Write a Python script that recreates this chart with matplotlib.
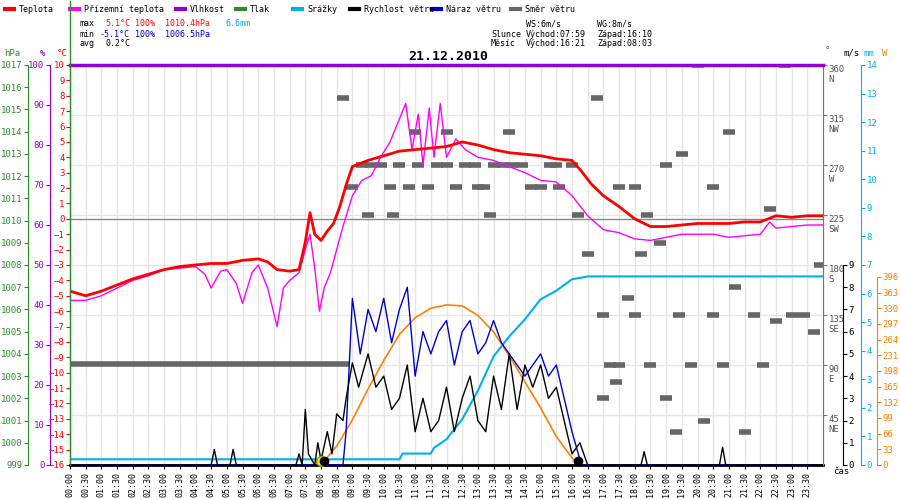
import matplotlib
matplotlib.use("Agg")
import matplotlib.pyplot as plt
import numpy as np

plt.rcParams['font.family'] = ['DejaVu Sans Mono']
plt.rcParams['font.size'] = 6.5

# ---------------- data ----------------
temp_t = [0, 0.5, 1, 1.5, 2, 2.5, 3, 3.5, 4, 4.5, 5, 5.5, 6, 6.3, 6.6, 7, 7.3, 7.5, 7.65, 7.8, 8.0, 8.2, 8.4, 8.6, 8.8, 9.0, 9.5, 10, 10.5, 11, 11.5, 12, 12.5, 13, 13.5, 14, 14.5, 15, 15.5, 16, 16.3, 16.6, 17.0, 17.5, 18, 18.5, 19, 19.5, 20, 20.5, 21, 21.5, 22, 22.5, 23, 23.5, 24]
temp_v = [-4.7, -5.0, -4.7, -4.3, -3.9, -3.6, -3.3, -3.1, -3.0, -2.9, -2.9, -2.7, -2.6, -2.8, -3.3, -3.4, -3.3, -1.5, 0.4, -1.0, -1.4, -0.8, -0.3, 0.8, 2.2, 3.4, 3.8, 4.1, 4.4, 4.5, 4.6, 4.7, 5.0, 4.8, 4.5, 4.3, 4.2, 4.1, 3.9, 3.8, 3.1, 2.3, 1.5, 0.8, 0.0, -0.5, -0.5, -0.4, -0.3, -0.3, -0.3, -0.2, -0.2, 0.2, 0.1, 0.2, 0.2]

feel_t = [0, 0.5, 1, 1.5, 2, 2.5, 3, 3.5, 4, 4.3, 4.5, 4.8, 5, 5.3, 5.5, 5.8, 6, 6.3, 6.6, 6.8, 7, 7.3, 7.5, 7.65, 7.8, 7.95, 8.1, 8.3, 8.5, 8.7, 9.0, 9.3, 9.6, 9.9, 10.2, 10.5, 10.7, 10.9, 11.1, 11.25, 11.45, 11.6, 11.8, 12.0, 12.3, 12.6, 13.0, 13.5, 14, 14.5, 15, 15.5, 16, 16.5, 17, 17.5, 18, 18.5, 19, 19.5, 20, 20.5, 21, 21.5, 22, 22.3, 22.5, 23, 23.5, 24]
feel_v = [-5.3, -5.3, -5.0, -4.5, -4.0, -3.7, -3.3, -3.2, -3.1, -3.6, -4.5, -3.4, -3.3, -4.2, -5.5, -3.5, -3.0, -4.5, -7.0, -4.5, -4.0, -3.5, -2.0, -1.0, -3.2, -6.0, -4.5, -3.5, -2.0, -0.5, 1.5, 2.5, 2.8, 4.0, 5.0, 6.5, 7.5, 4.5, 6.8, 3.5, 7.2, 4.0, 7.5, 4.0, 5.2, 4.5, 4.0, 3.8, 3.4, 3.0, 2.5, 2.4, 1.5, 0.2, -0.7, -0.9, -1.3, -1.4, -1.2, -1.0, -1.0, -1.0, -1.2, -1.1, -1.0, -0.2, -0.6, -0.5, -0.4, -0.4]

hum_t = [0, 24]
hum_v = [100, 100]

rain_t = [0, 10.5, 10.6, 11.5, 11.6, 12.0, 12.5, 13.0, 13.5, 14.0, 14.5, 15.0, 15.5, 16.0, 16.5, 24]
rain_v = [0.2, 0.2, 0.4, 0.4, 0.6, 0.9, 1.6, 2.6, 3.8, 4.5, 5.1, 5.8, 6.1, 6.5, 6.6, 6.6]

sun_t = [8.0, 8.5, 9.0, 9.5, 10.0, 10.5, 11.0, 11.5, 12.0, 12.5, 13.0, 13.5, 14.0, 14.5, 15.0, 15.5, 16.0, 16.2]
sun_v = [0, 40, 95, 160, 220, 275, 310, 330, 337, 335, 315, 280, 230, 175, 120, 60, 15, 0]

wind_t = [0, 4.5, 4.6, 4.7, 5.1, 5.2, 5.3, 7.2, 7.3, 7.4, 7.5, 7.6, 7.8, 7.9, 8.0, 8.2, 8.35, 8.5, 8.7, 8.8, 9.0, 9.2, 9.5, 9.75, 10.0, 10.25, 10.5, 10.75, 11.0, 11.25, 11.5, 11.75, 12.0, 12.25, 12.5, 12.75, 13.0, 13.25, 13.5, 13.75, 14.0, 14.25, 14.5, 14.75, 15.0, 15.25, 15.5, 15.75, 16.0, 16.25, 16.5, 18.2, 18.3, 18.4, 20.7, 20.8, 20.9, 24]
wind_v = [0, 0, 0.7, 0, 0, 0.7, 0, 0, 0.5, 0, 2.5, 0.5, 0, 1.0, 0.2, 1.5, 0.5, 2.3, 2.0, 3.0, 4.6, 3.5, 5.0, 3.5, 4.0, 2.5, 3.0, 4.5, 1.5, 3.0, 1.5, 2.0, 3.5, 1.5, 3.0, 4.0, 2.0, 1.5, 4.0, 2.5, 5.0, 2.5, 4.5, 3.5, 4.5, 3.0, 3.5, 2.0, 0.5, 1.0, 0, 0, 0.6, 0, 0, 0.8, 0, 0]

gust_t = [0, 8.7, 8.8, 9.0, 9.25, 9.5, 9.75, 10.0, 10.25, 10.5, 10.75, 11.0, 11.25, 11.5, 11.75, 12.0, 12.25, 12.5, 12.75, 13.0, 13.25, 13.5, 13.75, 14.0, 14.25, 14.5, 14.75, 15.0, 15.25, 15.5, 15.75, 16.0, 16.3, 24]
gust_v = [0, 0, 1.5, 7.5, 5.0, 7.0, 6.0, 7.5, 5.5, 7.0, 8.0, 4.0, 6.0, 5.0, 6.0, 6.5, 4.5, 6.0, 6.5, 5.0, 5.5, 6.5, 5.5, 5.0, 4.5, 4.0, 4.5, 5.0, 4.0, 4.5, 3.0, 1.5, 0, 0]

dir_const = (0.0, 8.9, 91)
dir_t = [9.0, 9.3, 9.6, 9.9, 10.2, 10.5, 10.8, 11.1, 11.4, 11.7, 12.0, 12.3, 12.6, 12.9, 13.2, 13.5, 13.8, 14.1, 14.4, 14.7, 15.0, 15.3, 15.6, 8.7, 9.5, 10.3, 11.0, 12.0, 13.0, 14.0, 13.4, 15.5, 16.0, 16.2, 16.5, 17.0, 17.2, 17.5, 17.4, 18.0, 18.4, 18.0, 17.8, 18.5, 19.0, 19.4, 19.8, 20.2, 20.5, 20.8, 21.2, 21.5, 21.8, 22.1, 22.5, 23.0, 23.4, 23.7, 23.9, 16.8, 17.5, 18.2, 19.0, 20.0, 22.8, 21.0, 22.3, 20.5, 19.5, 18.8, 17.0, 19.3]
dir_v = [250, 270, 270, 270, 250, 270, 250, 270, 250, 270, 270, 250, 270, 270, 250, 270, 270, 270, 270, 250, 250, 270, 250, 330, 225, 225, 300, 300, 250, 300, 225, 270, 270, 225, 190, 135, 90, 90, 75, 250, 225, 135, 150, 90, 60, 135, 90, 40, 135, 90, 160, 30, 135, 90, 130, 135, 135, 120, 180, 330, 250, 190, 270, 360, 360, 300, 230, 250, 280, 200, 60, 30]

time_labels = ["%02d:%02d" % (h // 2, 30 * (h % 2)) for h in range(48)]

PT = 72 / 100  # points per pixel

# ---------------- figure ----------------
fig = plt.figure(figsize=(9, 5), dpi=100)
pos = [70 / 900, 35 / 500, 753 / 900, 400 / 500]
ax = fig.add_axes(pos)
ax.set_xlim(0, 24)
ax.set_ylim(-16, 10)
ax.spines['top'].set_visible(False)
ax.spines['left'].set_color('red')
ax.spines['right'].set_color('#777777')
ax.spines['bottom'].set_color('black')
ax.spines['bottom'].set_linewidth(2)
ax.set_yticks(range(-16, 11))
ax.tick_params(axis='y', colors='red', labelcolor='red', length=3, pad=1, labelsize=6.5)
ax.set_xticks(np.arange(0, 24, 0.5))
ax.set_xticklabels(time_labels, rotation=90, fontsize=6)
ax.tick_params(axis='x', length=3, pad=2)
ax.grid(axis='x', color='#e6e6e6', lw=1)

# direction axis (grid + gray squares)
axd = ax.twinx()
axd.set_position(pos)
axd.set_ylim(0, 360)
axd.set_yticks([45, 90, 135, 180, 225, 270, 315, 360])
axd.set_yticklabels(["45\nNE", "90\nE", "135\nSE", "180\nS", "225\nSW", "270\nW", "315\nNW", "360\nN"], va='top')
axd.tick_params(axis='y', colors='#777777', labelcolor='#555555', length=3, pad=1, labelsize=6.5)
for s in ['top', 'left', 'bottom']:
    axd.spines[s].set_visible(False)
axd.spines['right'].set_color('#777777')
axd.grid(axis='y', color='#e6e6e6', lw=1)
axd.hlines(dir_const[2], dir_const[0], dir_const[1], color='#666666', lw=4)
axd.plot(dir_t, dir_v, ls='none', marker='_', ms=8, mew=4, color='#666666')

def left_axis(lim, ticks, offset_px, color):
    a = ax.twinx()
    a.set_position(pos)
    a.set_ylim(*lim)
    a.spines['left'].set_position(('outward', offset_px * PT))
    a.spines['left'].set_visible(True)
    a.yaxis.set_ticks_position('left')
    for s in ['top', 'right', 'bottom']:
        a.spines[s].set_visible(False)
    a.spines['left'].set_color(color)
    a.set_yticks(ticks)
    a.tick_params(axis='y', colors=color, labelcolor=color, length=3, pad=1, labelsize=6.5)
    return a

def right_axis(lim, ticks, offset_px, color, bound=None):
    a = ax.twinx()
    a.set_position(pos)
    a.set_ylim(*lim)
    a.spines['right'].set_position(('outward', offset_px * PT))
    if bound is not None:
        a.spines['right'].set_bounds(*bound)
    for s in ['top', 'left', 'bottom']:
        a.spines[s].set_visible(False)
    a.spines['right'].set_color(color)
    a.set_yticks(ticks)
    a.tick_params(axis='y', colors=color, labelcolor=color, length=3, pad=1, labelsize=6.5)
    return a

axh = left_axis((0, 100), range(0, 101, 10), 20, '#9400d3')
axh.plot(hum_t, hum_v, color='#9400d3', lw=2.5, clip_on=False)
axp = left_axis((999, 1017), range(999, 1018), 42, '#2e8b2e')

axr = right_axis((0, 14), range(0, 15), 38, '#00b0f0')
axr.plot(rain_t, rain_v, color='#00b0f0', lw=1.5)

axs = right_axis((0, 842), range(0, 397, 33), 54, '#ff8000', (0, 396))
axs.plot(sun_t, sun_v, color='#ff8000', lw=1.2)

axw = right_axis((0, 18), range(0, 10), 20, 'black', (0, 9))
axw.plot(gust_t, gust_v, color='#0000cc', lw=1)
axw.plot(wind_t, wind_v, color='black', lw=1)
axw.plot([8.0], [0.2], 'o', color='#ffee00', mec='#999900', ms=7, clip_on=False)
axw.plot([8.1, 16.2], [0.2, 0.2], 'o', color='black', ms=6, clip_on=False)

axt = ax.twinx()
axt.set_position(pos)
axt.set_ylim(-16, 10)
axt.axis('off')
axt.axhline(0, color='#888888', lw=1)
axt.plot(feel_t, feel_v, color='#ff00ff', lw=1)
axt.plot(temp_t, temp_v, color='red', lw=2)

# axis unit labels
fig.text(4 / 900, 1 - 53 / 500, "hPa", color='#2e8b2e', fontsize=6.5, va='center')
fig.text(40 / 900, 1 - 53 / 500, "%", color='#9400d3', fontsize=6.5, va='center')
fig.text(57 / 900, 1 - 53 / 500, "°C", color='red', fontsize=6.5, va='center')
fig.text(825 / 900, 1 - 51 / 500, "°", color='#555555', fontsize=6.5, va='center')
fig.text(843 / 900, 1 - 53 / 500, "m/s", color='black', fontsize=6.5, va='center')
fig.text(864 / 900, 1 - 53 / 500, "mm", color='#00b0f0', fontsize=6.5, va='center')
fig.text(882 / 900, 1 - 53 / 500, "W", color='#ff8000', fontsize=6.5, va='center')
fig.text(833 / 900, 1 - 472 / 500, "čas", color='black', fontsize=6.5, va='center')

fig.text(448 / 900, 1 - 57 / 500, "21.12.2010", fontsize=9.5, fontweight='bold', ha='center', va='center')

legend = [("Teplota", 'red'), ("Přízemní teplota", '#ff00ff'), ("Vlhkost", '#9400d3'), ("Tlak", '#2e8b2e'),
          ("Srážky", '#00b0f0'), ("Rychlost větru", 'black'), ("Náraz větru", '#0000cc'), ("Směr větru", '#666666')]
lx = [5, 70, 176, 236, 293, 350, 432, 511]
for (lab, c), x in zip(legend, lx):
    fig.add_artist(plt.Line2D([x / 900, (x + 9) / 900], [1 - 9 / 500] * 2, color=c, lw=3))
    fig.text((x + 14) / 900, 1 - 9 / 500, lab, fontsize=6, va='center')
fig.add_artist(plt.Line2D([70 / 900, 70 / 900], [1 - 1 / 500, 1 - 465 / 500], color='#2e8b2e', lw=1))

def row(y, parts):
    for x, t, c in parts:
        fig.text(x / 900, 1 - y / 500, t, color=c, fontsize=6, va='center')
row(24, [(80, "max", 'black'), (105, "5.1°C", 'red'), (135, "100%", 'red'), (165, "1010.4hPa", 'red'), (225, "6.6mm", '#00b0f0')])
row(34, [(80, "min", 'black'), (100, "-5.1°C", '#0000cc'), (135, "100%", '#0000cc'), (165, "1006.5hPa", '#0000cc')])
row(44, [(80, "avg", 'black'), (105, "0.2°C", 'black')])
row(24, [(526, "WS:6m/s", 'black'), (597, "WG:8m/s", 'black')])
row(34, [(491, "Slunce", 'black'), (526, "Východ:07:59", 'black'), (597, "Západ:16:10", 'black')])
row(44, [(491, "Měsíc", 'black'), (526, "Východ:16:21", 'black'), (597, "Západ:08:03", 'black')])

fig.savefig("out.png", dpi=100)
